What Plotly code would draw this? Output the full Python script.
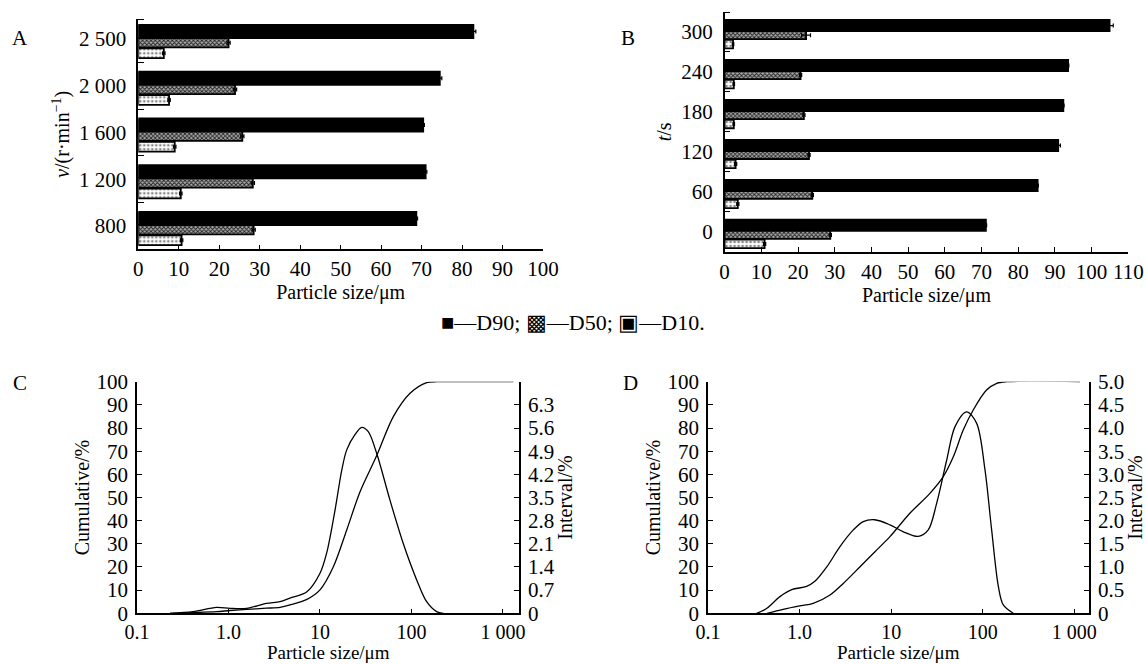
import plotly.graph_objects as go

W, H = 1146, 664

# ---------------- data ----------------
a_speeds = ["800", "1 200", "1 600", "2 000", "2 500"]
a_d90 = [68.7, 71.0, 70.4, 74.5, 82.8]
a_d90_err = [0.3, 0.3, 0.3, 0.5, 0.6]
a_d50 = [28.5, 28.3, 25.7, 23.9, 22.3]
a_d50_err = [0.4, 0.4, 0.4, 0.4, 0.4]
a_d10 = [10.7, 10.5, 9.0, 7.6, 6.3]
a_d10_err = [0.3, 0.3, 0.3, 0.3, 0.3]

b_times = ["0", "60", "120", "180", "240", "300"]
b_d90 = [71.2, 85.3, 90.9, 92.3, 93.6, 104.9]
b_d90_err = [0.2, 0.2, 0.6, 0.2, 0.2, 1.0]
b_d50 = [28.8, 23.9, 23.0, 21.6, 20.7, 22.2]
b_d50_err = [0.3, 0.3, 0.3, 0.3, 0.3, 1.2]
b_d10 = [10.9, 3.6, 3.0, 2.5, 2.5, 2.3]
b_d10_err = [0.3, 0.3, 0.3, 0.2, 0.2, 0.2]

c_cum_size = [0.23, 0.41, 0.74, 1.04, 1.58, 2.6, 3.66, 4.7, 7.2, 10, 14, 19.6, 27.4, 41.7, 63.3, 96.4, 146.6, 190, 250, 1300]
c_cum = [0, 0.3, 0.7, 1.2, 1.7, 2.2, 2.6, 3.6, 6.0, 10.1, 20.1, 36, 52.5, 68.1, 84.9, 95, 99.6, 100, 100, 100]
c_int_size = [0.23, 0.41, 0.74, 1.04, 1.58, 2.6, 3.66, 4.7, 7.2, 10, 11.8, 14.6, 17.3, 19.6, 24, 28.6, 33.7, 41.7, 58.2, 81.3, 114, 146.6, 188, 223]
c_int = [0, 0.05, 0.18, 0.15, 0.15, 0.30, 0.35, 0.46, 0.65, 1.21, 1.81, 3.12, 4.33, 4.94, 5.39, 5.62, 5.49, 4.83, 3.42, 2.11, 1.01, 0.35, 0.05, 0]

d_cum_size = [0.44, 0.66, 1.0, 1.41, 2.15, 3.0, 4.57, 6.65, 9.7, 16, 26.5, 37, 47.7, 61.2, 78.7, 110, 142, 182, 1150]
d_cum = [0, 1.7, 3.2, 4.3, 7.9, 12.9, 20.1, 26.6, 33.1, 43.2, 51.8, 59, 67.6, 79.1, 87.8, 96.4, 99.3, 100, 100]
d_int_size = [0.34, 0.44, 0.61, 0.82, 1.19, 1.47, 1.98, 2.76, 3.86, 4.96, 6.6, 9.7, 13.6, 19.8, 25.4, 31.4, 40.4, 49.8, 66.7, 85.8, 105.7, 125, 148, 167.6, 215]
d_int = [0, 0.11, 0.36, 0.51, 0.58, 0.69, 1.0, 1.44, 1.8, 1.98, 2.02, 1.91, 1.76, 1.66, 1.8, 2.38, 3.31, 4.03, 4.35, 4.1, 3.1, 1.8, 0.58, 0.18, 0]

c_right_ticks = [0, 0.7, 1.4, 2.1, 2.8, 3.5, 4.2, 4.9, 5.6, 6.3]
c_right_text = ["0", "0.7", "1.4", "2.1", "2.8", "3.5", "4.2", "4.9", "5.6", "6.3"]
d_right_ticks = [0, 0.5, 1.0, 1.5, 2.0, 2.5, 3.0, 3.5, 4.0, 4.5, 5.0]
d_right_text = ["0", "0.5", "1.0", "1.5", "2.0", "2.5", "3.0", "3.5", "4.0", "4.5", "5.0"]
log_ticks = [0.1, 1, 10, 100, 1000]
log_text = ["0.1", "1.0", "10", "100", "1 000"]

FONT = "Liberation Serif"


def px_x(a, b):
    return [a / W, b / W]


def px_y(top, bottom):
    return [1 - bottom / H, 1 - top / H]


fig = go.Figure()

# ---------------- bar panels ----------------
styles = {
    "D90": dict(color="black", pattern=None, offset=0.02, width=0.28),
    "D50": dict(color="#888888", pattern=dict(shape="x", size=3, solidity=0.5, fgcolor="#222222", bgcolor="#aaaaaa"), offset=-0.18, width=0.2),
    "D10": dict(color="white", pattern=dict(shape=".", size=4, solidity=0.35, fgcolor="#888888", bgcolor="white"), offset=-0.41, width=0.21),
}


def add_bars(cats, series, xa, ya):
    pos = list(range(len(cats)))
    for name, vals, err in series:
        st = styles[name]
        marker = dict(color=st["color"], line=dict(color="black", width=1.8))
        if st["pattern"]:
            marker["pattern"] = st["pattern"]
        fig.add_trace(go.Bar(
            x=vals, y=pos, orientation="h", name=name, marker=marker,
            offset=st["offset"], width=st["width"], xaxis=xa, yaxis=ya,
            error_x=dict(type="data", array=err, color="black", thickness=1.2, width=2),
            showlegend=False))


add_bars(a_speeds, [("D90", a_d90, a_d90_err), ("D50", a_d50, a_d50_err), ("D10", a_d10, a_d10_err)], "x", "y")
add_bars(b_times, [("D90", b_d90, b_d90_err), ("D50", b_d50, b_d50_err), ("D10", b_d10, b_d10_err)], "x2", "y2")

# ---------------- distribution panels ----------------
line_style = dict(color="black", width=1.3, shape="spline", smoothing=0.9)
fig.add_trace(go.Scatter(x=c_cum_size, y=c_cum, mode="lines", line=line_style, xaxis="x3", yaxis="y3", showlegend=False))
fig.add_trace(go.Scatter(x=c_int_size, y=c_int, mode="lines", line=line_style, xaxis="x3", yaxis="y4", showlegend=False))
fig.add_trace(go.Scatter(x=d_cum_size, y=d_cum, mode="lines", line=line_style, xaxis="x4", yaxis="y5", showlegend=False))
fig.add_trace(go.Scatter(x=d_int_size, y=d_int, mode="lines", line=line_style, xaxis="x4", yaxis="y6", showlegend=False))

tickfont = dict(family=FONT, size=21, color="black")
tickfont_small = dict(family=FONT, size=20, color="black")
titlefont = dict(family=FONT, size=20, color="black")
titlefont_small = dict(family=FONT, size=19, color="black")
axis_common = dict(showline=True, linecolor="black", linewidth=1.5, showgrid=False, zeroline=False, automargin=False,
                   ticks="inside", ticklen=5, tickwidth=1.2, tickcolor="black", tickfont=tickfont)

layout = dict(
    template="none",
    width=W, height=H, margin=dict(l=0, r=0, t=0, b=0, pad=0, autoexpand=False),
    paper_bgcolor="white", plot_bgcolor="white", barmode="overlay", showlegend=False,
    font=dict(family=FONT, color="black"),
)

# A
layout["xaxis"] = dict(axis_common, domain=px_x(138.3, 543), anchor="y", range=[0, 100], tickvals=list(range(0, 101, 10)),
                       title=dict(text="Particle size/μm", font=titlefont, standoff=0))
layout["yaxis"] = dict(axis_common, domain=px_y(19.3, 249.3), anchor="x", range=[-0.5, 4.42],
                       tickvals=list(range(5)), ticktext=a_speeds, ticks="",
                       minor=dict(tickvals=[0.5, 1.5, 2.5, 3.5, 4.42], ticks="inside", ticklen=6, tickwidth=1.2, tickcolor="black"),
                       ticklabelstandoff=6,
                       title=dict(text="<i>v</i>/(r·min<sup>−1</sup>)", font=titlefont, standoff=4))
# B
layout["xaxis2"] = dict(axis_common, domain=px_x(724.6, 1128.3), anchor="y2", range=[0, 110], tickvals=list(range(0, 111, 10)),
                        title=dict(text="Particle size/μm", font=titlefont, standoff=0))
layout["yaxis2"] = dict(axis_common, domain=px_y(12, 251.7), anchor="x2", range=[-0.5, 5.5],
                        tickvals=list(range(6)), ticktext=b_times, ticks="",
                        minor=dict(tickvals=[0.5, 1.5, 2.5, 3.5, 4.5, 5.5], ticks="inside", ticklen=6, tickwidth=1.2, tickcolor="black"),
                        ticklabelstandoff=6,
                        title=dict(text="<i>t</i>/s", font=titlefont, standoff=4))
# C
layout["xaxis3"] = dict(axis_common, domain=px_x(137, 519), anchor="y3", type="log", range=[-1, 3.175],
                        tickvals=log_ticks, ticktext=log_text, ticklabelstandoff=0, tickfont=tickfont_small)
layout["yaxis3"] = dict(axis_common, domain=px_y(381.7, 613.3), anchor="x3", range=[0, 100], tickvals=list(range(0, 101, 10)),
                        ticklabelstandoff=3,
                        title=dict(text="Cumulative/%", font=titlefont, standoff=2))
layout["yaxis4"] = dict(axis_common, overlaying="y3", side="right", anchor="x3", range=[0, 7.0],
                        tickvals=c_right_ticks, ticktext=c_right_text, ticklabelstandoff=3,
                        title=dict(text="Interval/%", font=titlefont, standoff=2))
# D
layout["xaxis4"] = dict(axis_common, domain=px_x(708, 1089), anchor="y5", type="log", range=[-1, 3.16],
                        tickvals=log_ticks, ticktext=log_text, ticklabelstandoff=0, tickfont=tickfont_small)
layout["yaxis5"] = dict(axis_common, domain=px_y(381.7, 613.3), anchor="x4", range=[0, 100], tickvals=list(range(0, 101, 10)),
                        ticklabelstandoff=3,
                        title=dict(text="Cumulative/%", font=titlefont, standoff=2))
layout["yaxis6"] = dict(axis_common, overlaying="y5", side="right", anchor="x4", range=[0, 5.0],
                        tickvals=d_right_ticks, ticktext=d_right_text, ticklabelstandoff=3,
                        title=dict(text="Interval/%", font=titlefont, standoff=2))

fig.update_layout(**layout)

# bottom-row x-axis titles (placed at the page bottom)
for cx in [(137 + 519) / 2, (708 + 1089) / 2]:
    fig.add_annotation(text="Particle size/μm", x=cx / W, y=0, xref="paper", yref="paper", showarrow=False,
                       font=titlefont_small, xanchor="center", yanchor="bottom", borderpad=0)

# panel letters and legend
letters = [("A", 20, 38), ("B", 628, 38), ("C", 20, 383), ("D", 630, 383)]
for t, x, y in letters:
    fig.add_annotation(text=t, x=x / W, y=1 - y / H, xref="paper", yref="paper", showarrow=False,
                       font=dict(family=FONT, size=21, color="black"), xanchor="center", yanchor="middle")

fig.add_annotation(text="■—D90; ▩—D50; ▣—D10.", x=573 / W, y=1 - 322 / H, xref="paper", yref="paper",
                   showarrow=False, font=dict(family=FONT, size=22, color="black"), xanchor="center", yanchor="middle")

fig.write_html("out.html")
